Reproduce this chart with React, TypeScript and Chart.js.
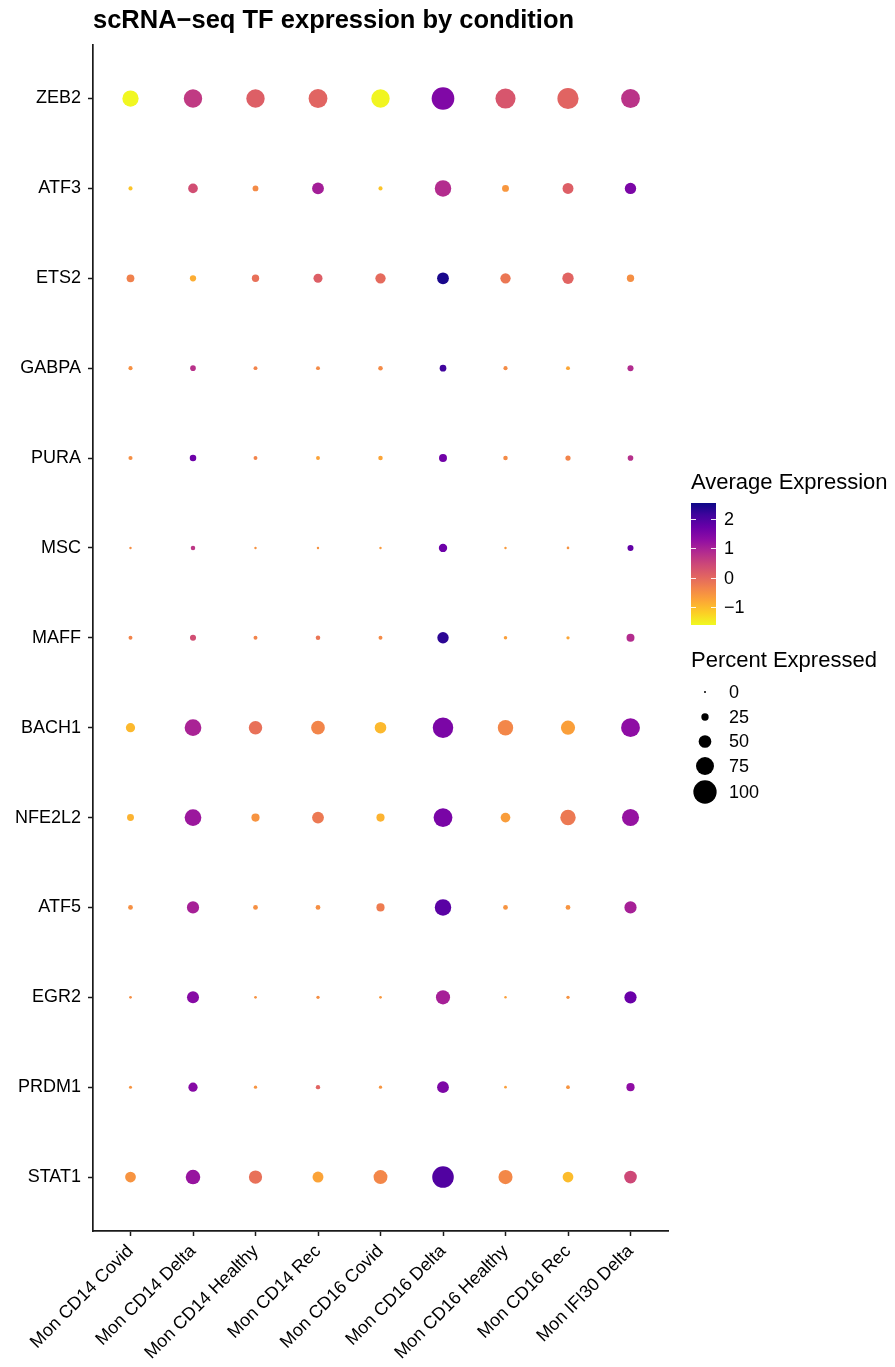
import React, { useEffect, useRef } from "react";
import { Chart, registerables } from "chart.js";

Chart.register(...registerables);

const FONT = "'Liberation Sans', Arial, Helvetica, sans-serif";

const conditions = [
  "Mon CD14 Covid",
  "Mon CD14 Delta",
  "Mon CD14 Healthy",
  "Mon CD14 Rec",
  "Mon CD16 Covid",
  "Mon CD16 Delta",
  "Mon CD16 Healthy",
  "Mon CD16 Rec",
  "Mon IFI30 Delta",
];

const genes = [
  "ZEB2", "ATF3", "ETS2", "GABPA", "PURA", "MSC", "MAFF",
  "BACH1", "NFE2L2", "ATF5", "EGR2", "PRDM1", "STAT1",
];

// Scaled average expression per gene (columns follow `conditions`)
const zeb2Avg = [-1.6, 0.65, 0.12, 0.04, -1.58, 1.47, 0.25, 0.05, 0.74];
const atf3Avg = [-1.1, 0.37, -0.45, 1.05, -1.1, 0.85, -0.6, 0.12, 1.52];
const ets2Avg = [-0.33, -0.86, -0.12, 0.12, -0.04, 2.45, -0.2, 0.05, -0.5];
const gabpaAvg = [-0.53, 0.78, -0.37, -0.45, -0.45, 2.13, -0.47, -0.78, 0.86];
const puraAvg = [-0.5, 1.68, -0.37, -0.74, -0.76, 1.64, -0.45, -0.37, 0.8];
const mscAvg = [-0.5, 0.7, -0.55, -0.55, -0.65, 1.68, -0.65, -0.55, 1.8];
const maffAvg = [-0.37, 0.37, -0.37, -0.18, -0.45, 2.3, -0.7, -0.78, 0.85];
const bach1Avg = [-0.98, 0.98, -0.12, -0.38, -0.98, 1.52, -0.4, -0.7, 1.31];
const nfe2l2Avg = [-0.92, 1.15, -0.57, -0.22, -0.92, 1.55, -0.68, -0.22, 1.23];
const atf5Avg = [-0.52, 1.02, -0.52, -0.5, -0.27, 1.88, -0.57, -0.57, 1.02];
const egr2Avg = [-0.5, 1.39, -0.55, -0.5, -0.62, 1.02, -0.7, -0.55, 1.72];
const prdm1Avg = [-0.57, 1.4, -0.57, 0.05, -0.58, 1.5, -0.7, -0.57, 1.3];
const stat1Avg = [-0.57, 1.2, -0.12, -0.75, -0.4, 1.97, -0.42, -1.02, 0.45];

// Percent of cells expressing each gene
const zeb2Pct = [67, 77, 77, 79, 77, 97, 85, 90, 79];
const atf3Pct = [10, 36, 18, 46, 10, 68, 23, 42, 44];
const ets2Pct = [27, 20, 25, 33, 39, 46, 39, 44, 25];
const gabpaPct = [10, 17, 9, 9, 12, 22, 10, 9, 19];
const puraPct = [10, 21, 9, 9, 12, 28, 12, 15, 17];
const mscPct = [2, 12, 2, 2, 2, 30, 2, 3, 19];
const maffPct = [9, 19, 9, 12, 9, 44, 7, 6, 28];
const bach1Pct = [34, 69, 54, 55, 45, 87, 63, 57, 79];
const nfe2l2Pct = [23, 69, 29, 46, 29, 79, 36, 63, 71];
const atf5Pct = [13, 48, 13, 13, 29, 68, 13, 13, 48];
const egr2Pct = [3, 47, 3, 6, 3, 57, 2, 6, 48];
const prdm1Pct = [5, 34, 6, 11, 6, 46, 3, 8, 29];
const stat1Pct = [41, 59, 53, 42, 56, 92, 57, 41, 50];

const avgRows = [
  zeb2Avg, atf3Avg, ets2Avg, gabpaAvg, puraAvg, mscAvg, maffAvg,
  bach1Avg, nfe2l2Avg, atf5Avg, egr2Avg, prdm1Avg, stat1Avg,
];
const pctRows = [
  zeb2Pct, atf3Pct, ets2Pct, gabpaPct, puraPct, mscPct, maffPct,
  bach1Pct, nfe2l2Pct, atf5Pct, egr2Pct, prdm1Pct, stat1Pct,
];

// Legend breaks
const colorBreaks = [2, 1, 0, -1];
const sizeBreaks = [0, 25, 50, 75, 100];
const COLOR_MIN = -1.62;
const COLOR_MAX = 2.55;

// plasma palette, dark blue -> yellow
const PLASMA = [
  "#0D0887", "#41049D", "#6A00A8", "#8F0DA4", "#B12A90", "#CC4778",
  "#E16462", "#F2844B", "#FCA636", "#FCCE25", "#F0F921",
];

function hexToRgb(h: string) {
  const n = parseInt(h.slice(1), 16);
  return [(n >> 16) & 255, (n >> 8) & 255, n & 255];
}

function plasma(t: number) {
  const c = Math.min(1, Math.max(0, t)) * (PLASMA.length - 1);
  const i = Math.min(PLASMA.length - 2, Math.floor(c));
  const f = c - i;
  const a = hexToRgb(PLASMA[i]);
  const b = hexToRgb(PLASMA[i + 1]);
  const m = a.map((v, k) => Math.round(v + (b[k] - v) * f));
  return `rgb(${m[0]},${m[1]},${m[2]})`;
}

// high expression -> dark blue, low -> yellow
function exprColor(v: number) {
  return plasma((COLOR_MAX - v) / (COLOR_MAX - COLOR_MIN));
}

function pctRadius(p: number) {
  return 1 + p * 0.1065;
}

const dotLegend = {
  id: "dotLegend",
  afterDraw(chart: any) {
    const ctx = chart.ctx as CanvasRenderingContext2D;
    ctx.save();
    ctx.fillStyle = "#000";
    ctx.textBaseline = "middle";
    ctx.textAlign = "left";

    // colour bar
    const bx = 691, bw = 25, top = 503, bottom = 625;
    ctx.font = `22px ${FONT}`;
    ctx.fillText("Average Expression", 691, 483);
    const g = ctx.createLinearGradient(0, top, 0, bottom);
    PLASMA.forEach((c, i) => g.addColorStop(i / (PLASMA.length - 1), c));
    ctx.fillStyle = g;
    ctx.fillRect(bx, top, bw, bottom - top);
    const yOf = (v: number) =>
      bottom - ((v - COLOR_MIN) / (COLOR_MAX - COLOR_MIN)) * (bottom - top);
    ctx.strokeStyle = "rgba(255,255,255,0.9)";
    ctx.lineWidth = 1;
    ctx.font = `18px ${FONT}`;
    colorBreaks.forEach((v) => {
      const y = Math.round(yOf(v)) + 0.5;
      ctx.beginPath();
      ctx.moveTo(bx, y);
      ctx.lineTo(bx + 5, y);
      ctx.moveTo(bx + bw - 5, y);
      ctx.lineTo(bx + bw, y);
      ctx.stroke();
      ctx.fillStyle = "#000";
      ctx.fillText(v < 0 ? "\u2212" + Math.abs(v) : String(v), 724, yOf(v) + 1);
    });

    // size legend
    ctx.font = `22px ${FONT}`;
    ctx.fillStyle = "#000";
    ctx.fillText("Percent Expressed", 691, 661);
    ctx.font = `18px ${FONT}`;
    const rowY = [692, 717, 741.5, 766, 792];
    sizeBreaks.forEach((p, i) => {
      ctx.beginPath();
      ctx.arc(705, rowY[i], pctRadius(p), 0, Math.PI * 2);
      ctx.fill();
      ctx.fillText(String(p), 729, rowY[i] + 1);
    });
    ctx.restore();
  },
};

export default function App() {
  const ref = useRef<HTMLCanvasElement>(null);

  useEffect(() => {
    if (!ref.current) return;
    const points: { x: number; y: number }[] = [];
    const radii: number[] = [];
    const colors: string[] = [];
    genes.forEach((_, gi) => {
      conditions.forEach((_, ci) => {
        points.push({ x: ci, y: gi });
        radii.push(pctRadius(pctRows[gi][ci]));
        colors.push(exprColor(avgRows[gi][ci]));
      });
    });

    const axisCommon = {
      type: "linear" as const,
      border: { display: true, color: "#1a1a1a", width: 1.7 },
      grid: {
        drawOnChartArea: false,
        drawTicks: true,
        tickLength: 5,
        tickColor: "#1a1a1a",
        tickWidth: 1.5,
      },
    };

    const chart = new Chart(ref.current, {
      type: "scatter",
      data: {
        datasets: [
          {
            data: points,
            pointRadius: radii,
            pointHoverRadius: radii,
            pointBackgroundColor: colors,
            pointBorderWidth: 0,
            borderWidth: 0,
          },
        ],
      },
      options: {
        animation: false,
        responsive: false,
        devicePixelRatio: 1,
        layout: { padding: { left: 0, right: 227, top: 0, bottom: 0 } },
        plugins: {
          legend: { display: false },
          tooltip: { enabled: false },
          title: {
            display: true,
            text: "scRNA\u2212seq TF expression by condition",
            align: "start",
            fullSize: false,
            color: "#000",
            font: { family: FONT, size: 25.5, weight: "bold" },
            padding: { top: 6, bottom: 8 },
          },
        },
        scales: {
          x: {
            ...axisCommon,
            min: -0.6,
            max: 8.6,
            afterBuildTicks: (s: any) => {
              s.ticks = conditions.map((_, i) => ({ value: i }));
            },
            afterFit: (s: any) => {
              s.height = 136;
            },
            ticks: {
              autoSkip: false,
              minRotation: 45,
              maxRotation: 45,
              padding: 8,
              color: "#000",
              font: { family: FONT, size: 18, lineHeight: 0.7 },
              callback: (v: any) => conditions[v as number] ?? "",
            },
          },
          y: {
            ...axisCommon,
            reverse: true,
            min: -0.6,
            max: 12.6,
            afterBuildTicks: (s: any) => {
              s.ticks = genes.map((_, i) => ({ value: i }));
            },
            afterFit: (s: any) => {
              s.width = 93;
            },
            ticks: {
              autoSkip: false,
              padding: 7,
              color: "#000",
              font: { family: FONT, size: 18 },
              callback: (v: any) => genes[v as number] ?? "",
            },
          },
        },
      },
      plugins: [dotLegend],
    });
    return () => chart.destroy();
  }, []);

  return (
    <div style={{ position: "fixed", left: 0, top: 0, width: 895, height: 1367, background: "#fff" }}>
      <canvas ref={ref} width={895} height={1367} style={{ display: "block" }} />
    </div>
  );
}
